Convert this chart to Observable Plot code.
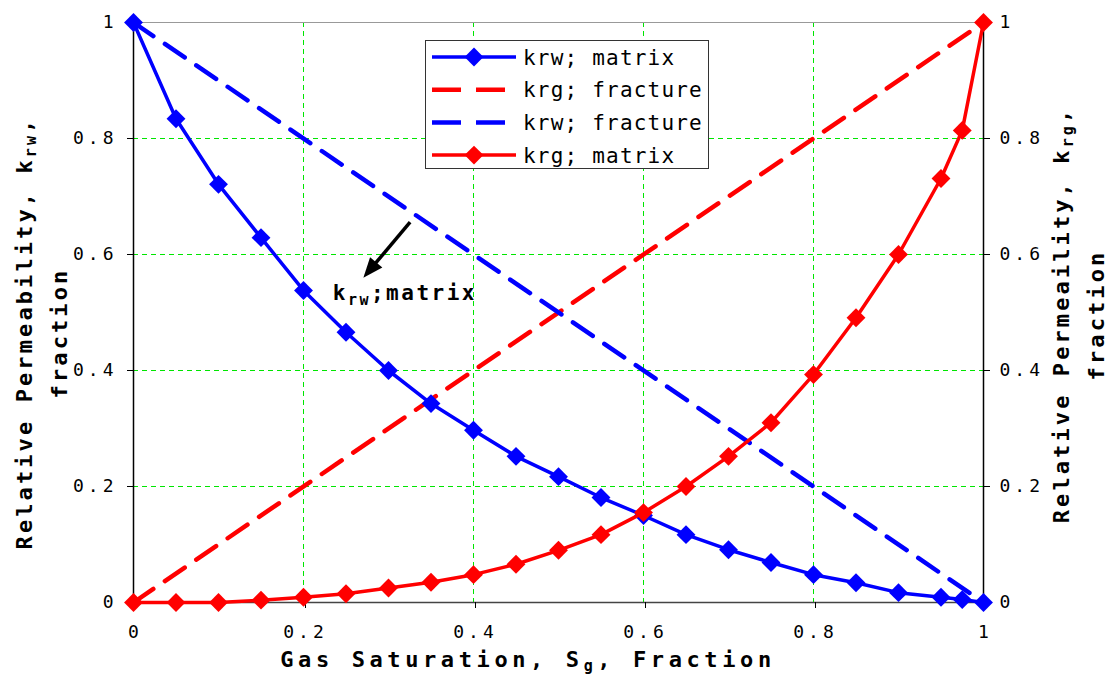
<!DOCTYPE html>
<html>
<head>
<meta charset="utf-8">
<script src="https://cdn.jsdelivr.net/npm/d3@7"></script>
<script src="https://cdn.jsdelivr.net/npm/@observablehq/plot@0.6"></script>
<style>
  body { margin: 0; background: #fff; }
  #chart { position: relative; width: 1108px; height: 676px; }
  svg text { font-family: "DejaVu Sans Mono", monospace; }
</style>
</head>
<body>
<div id="chart"></div>
<script>
// ---- data ----
const sg = [0, 0.05, 0.1, 0.15, 0.2, 0.25, 0.3, 0.35, 0.4, 0.45, 0.5, 0.55, 0.6, 0.65, 0.7, 0.75, 0.8, 0.85, 0.9, 0.95, 0.975, 1];
const krwMatrix = [1, 0.834, 0.721, 0.629, 0.538, 0.466, 0.400, 0.343, 0.297, 0.252, 0.217, 0.181, 0.150, 0.117, 0.091, 0.069, 0.048, 0.034, 0.017, 0.009, 0.005, 0];
const krgMatrix = [0, 0, 0, 0.004, 0.009, 0.015, 0.025, 0.035, 0.048, 0.066, 0.090, 0.117, 0.155, 0.200, 0.252, 0.310, 0.393, 0.491, 0.600, 0.731, 0.814, 1];
const sgFracture = [0, 1];
const krgFracture = [0, 1];
const krwFracture = [1, 0];
const axisTicks = [0, 0.2, 0.4, 0.6, 0.8, 1];
const gridTicks = [0.2, 0.4, 0.6, 0.8];
const seriesNames = ["krw; matrix", "krg; fracture", "krw; fracture", "krg; matrix"];
// annotation (data coords)
const arrowTail = [0.326, 0.655];
const arrowTip = [0.271, 0.559];
const annotPos = [0.235, 0.521];

const matrix = sg.map((s, i) => ({sg: s, krw: krwMatrix[i], krg: krgMatrix[i]}));
const fracture = sgFracture.map((s, i) => ({sg: s, krw: krwFracture[i], krg: krgFracture[i]}));

const BLUE = "#0000ff", RED = "#ff0000", GRID = "#00e600";
const dash = "24,14";
const R = 8.5;

const plot = Plot.plot({
  width: 1108, height: 676,
  marginLeft: 133, marginRight: 125, marginTop: 22, marginBottom: 74,
  x: {domain: [0, 1]},
  y: {domain: [0, 1]},
  style: {fontFamily: '"DejaVu Sans Mono", monospace', background: "#fff", color: "#000"},
  marks: [
    Plot.ruleX(gridTicks, {stroke: GRID, strokeOpacity: 1, strokeWidth: 1, strokeDasharray: "5,4", ariaLabel: "vgrid"}),
    Plot.ruleY(gridTicks, {stroke: GRID, strokeOpacity: 1, strokeWidth: 1, strokeDasharray: "5,4", ariaLabel: "hgrid"}),
    Plot.frame({stroke: "#999"}),
    Plot.ruleY([0], {stroke: "#444", strokeWidth: 1.5}),
    Plot.ruleX([0, 1], {stroke: "#000", strokeWidth: 1.5}),
    Plot.axisX(axisTicks, {anchor: "bottom", tickSize: 6, tickPadding: 17, fontSize: 18, tickFormat: d => String(d), label: null, dx: 2}),
    Plot.axisY(axisTicks, {anchor: "left", tickSize: 6, tickPadding: 10, fontSize: 18, tickFormat: d => String(d), label: null}),
    Plot.axisY(axisTicks, {anchor: "right", tickSize: 6, tickPadding: 10, fontSize: 18, tickFormat: d => String(d), label: null}),
    Plot.line(fracture, {x: "sg", y: "krg", stroke: RED, strokeWidth: 4.5, strokeDasharray: dash}),
    Plot.line(fracture, {x: "sg", y: "krw", stroke: BLUE, strokeWidth: 4.5, strokeDasharray: dash}),
    Plot.line(matrix, {x: "sg", y: "krw", stroke: BLUE, strokeWidth: 3.5}),
    Plot.dot(matrix, {x: "sg", y: "krw", symbol: "diamond2", r: R, fill: BLUE, stroke: "none"}),
    Plot.line(matrix, {x: "sg", y: "krg", stroke: RED, strokeWidth: 3.5}),
    Plot.dot(matrix, {x: "sg", y: "krg", symbol: "diamond2", r: R, fill: RED, stroke: "none"})
  ]
});

document.getElementById("chart").appendChild(plot);

const svg = d3.select(plot);
svg.selectAll('[aria-label="x-axis tick label"] text, [aria-label="y-axis tick label"] text').attr("letter-spacing", 4);
svg.selectAll('[aria-label="vgrid"], [aria-label="hgrid"]')
  .attr("stroke", GRID).attr("shape-rendering", "crispEdges")
  .selectAll("line").attr("stroke", GRID);

const sx = plot.scale("x"), sy = plot.scale("y");

// arrow annotation
const tx = sx.apply(arrowTail[0]), ty = sy.apply(arrowTail[1]);
const hx = sx.apply(arrowTip[0]), hy = sy.apply(arrowTip[1]);
const len = Math.hypot(hx - tx, hy - ty), ux = (hx - tx) / len, uy = (hy - ty) / len;
const headL = 20, headW = 8;
const bx = hx - ux * headL, by = hy - uy * headL;
const ann = svg.append("g").attr("text-anchor", "start");
ann.append("line").attr("x1", tx).attr("y1", ty).attr("x2", bx + ux * 2).attr("y2", by + uy * 2)
  .attr("stroke", "#000").attr("stroke-width", 3.5);
ann.append("polygon")
  .attr("points", [[hx, hy], [bx - uy * headW, by + ux * headW], [bx + uy * headW, by - ux * headW]].map(p => p.join(",")).join(" "))
  .attr("fill", "#000");
const at = ann.append("text").attr("x", sx.apply(annotPos[0])).attr("y", sy.apply(annotPos[1]))
  .attr("font-size", 21).attr("font-weight", "bold").attr("letter-spacing", 2.5).attr("fill", "#000");
at.append("tspan").text("k");
at.append("tspan").attr("font-size", 15).attr("dy", 5).text("rw");
at.append("tspan").attr("dy", -5).text(";matrix");

// axis titles
function title(x, y, rot, parts, spacing) {
  const t = svg.append("text").attr("transform", `translate(${x},${y}) rotate(${rot})`)
    .attr("text-anchor", "middle").attr("font-size", 22).attr("font-weight", "bold")
    .attr("letter-spacing", spacing).attr("fill", "#000");
  let prevSub = false;
  parts.forEach(([s, sub]) => {
    if (sub) { t.append("tspan").attr("font-size", 15).attr("dy", 4).text(s); prevSub = true; }
    else { t.append("tspan").attr("dy", prevSub ? -4 : 0).text(s); prevSub = false; }
  });
  return t;
}
title(528, 667, 0, [["Gas Saturation, S"], ["g", true], [", Fraction"]], 4.6);
title(32, 333, -90, [["Relative Permeability, k"], ["rw", true], [","]], 3.1);
title(67, 333, -90, [["fraction"]], 3.1);
title(1069, 315, -90, [["Relative Permeaility, k"], ["rg", true], [","]], 3.1);
title(1104, 315, -90, [["fraction"]], 3.1);

// legend
const lg = svg.append("g").attr("text-anchor", "start");
lg.append("rect").attr("x", 425.5).attr("y", 40.5).attr("width", 283).attr("height", 128)
  .attr("fill", "#fff").attr("stroke", "#333").attr("stroke-width", 1);
const legendStyle = [
  {color: BLUE, dash: null, marker: true},
  {color: RED, dash: "29,15", marker: false},
  {color: BLUE, dash: "29,15", marker: false},
  {color: RED, dash: null, marker: true}
];
seriesNames.forEach((name, i) => {
  const y = 57 + i * 32.7;
  const st = legendStyle[i];
  const l = lg.append("line").attr("x1", 432).attr("x2", 516).attr("y1", y).attr("y2", y)
    .attr("stroke", st.color).attr("stroke-width", st.marker ? 3.5 : 4.5);
  if (st.dash) l.attr("stroke-dasharray", st.dash);
  if (st.marker) lg.append("path").attr("d", d3.symbol(d3.symbolDiamond2, Math.PI * R * R)())
    .attr("transform", `translate(474,${y})`).attr("fill", st.color);
  lg.append("text").attr("x", 523).attr("y", y).attr("dy", "0.36em").attr("font-size", 21)
    .attr("letter-spacing", 1.2).attr("fill", "#000").text(name);
});
</script>
</body>
</html>
